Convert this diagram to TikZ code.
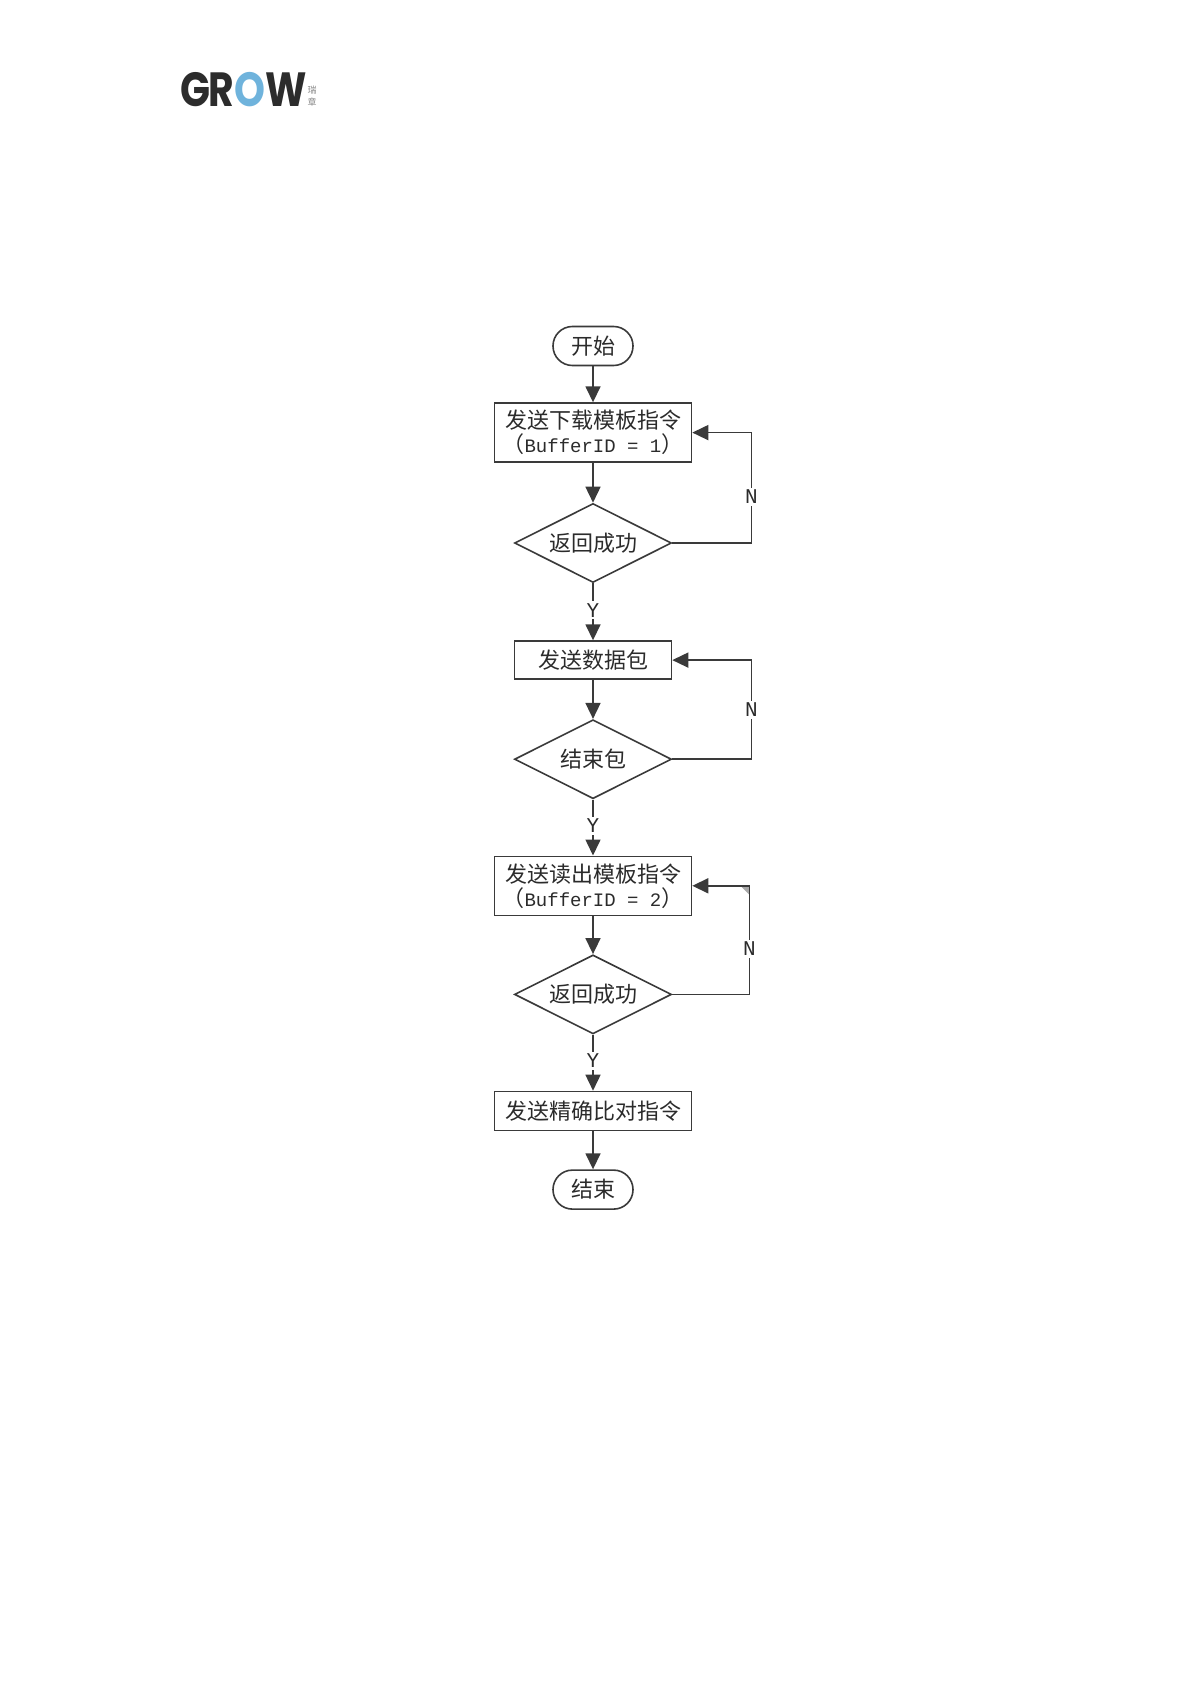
\documentclass[tikz,border=0pt]{standalone}
\usepackage{fontspec}
\usepackage{xcolor}
\usepackage{graphicx}
\usepackage{tikz}
\usetikzlibrary{positioning,arrows.meta,calc,shapes.geometric}
\setmainfont{Noto Sans CJK SC}
\newfontfamily\cjkfont{Noto Sans CJK SC}
\newfontfamily\latinfont{Liberation Mono}
\newfontfamily\logofont[LetterSpace=-4]{Poppins}
\definecolor{chartDraw}{HTML}{3A3A3A}
\definecolor{chartText}{HTML}{2B2B2B}
\definecolor{logoDark}{HTML}{2C2C2C}
\definecolor{logoBlue}{HTML}{6FB3DC}
\definecolor{logoGrey}{HTML}{8A8A8A}
\definecolor{cornerGrey}{HTML}{A8A8A8}

\begin{document}
\begin{tikzpicture}[
  x=0.5pt, y=0.5pt,
  font=\fontsize{11}{12}\selectfont,
  cmdbox/.style={draw=chartDraw, line width=0.8pt, align=center, text=chartText,
              minimum width=98.5pt, minimum height=29.5pt, inner sep=0pt},
  shortbox/.style={cmdbox, minimum width=78.5pt, minimum height=19pt},
  onebox/.style={cmdbox, minimum height=19.5pt},
  endbox/.style={draw=chartDraw, line width=0.8pt, rounded corners=9.7pt, text=chartText,
              minimum width=40pt, minimum height=19.5pt, inner sep=0pt},
  check/.style={diamond, draw=chartDraw, line width=0.8pt, text=chartText, aspect=2,
              minimum width=78.5pt, minimum height=39.5pt, inner sep=0pt},
  flow/.style={-{Triangle[length=8pt,width=7.5pt]}, line width=0.8pt, draw=chartDraw},
  lab/.style={font=\latinfont\fontsize{10.5}{11}\selectfont, text=chartText, fill=white, inner sep=1pt},
]
\useasboundingbox (0,0) rectangle (1191,-1684);

% ---- Logo ----
\node[font=\logofont\bfseries\fontsize{24}{24}\selectfont, text=logoDark, anchor=west, inner sep=0pt] (logo)
  at (180,-90) {\scalebox{0.82}[1]{GR\textcolor{logoBlue}{O}W}};
\node[font=\fontsize{4.5}{6}\selectfont, text=logoGrey, align=center, inner sep=0pt,
  right=0pt of logo, yshift=-3pt] (logosub) {瑞\\章};

% ---- Etapas ----
\node[endbox]                        (start) at (593,-346) {开始};
\node[cmdbox, below=18pt of start]   (load) {发送下载模板指令\\{\cjkfont（}{\latinfont\fontsize{9.5}{12}\selectfont BufferID = 1}{\cjkfont）}};
\node[check, below=19.9pt of load]   (retA) {返回成功};
\node[shortbox, below=28.5pt of retA] (send) {发送数据包};
\node[check, below=19.5pt of send]   (last) {结束包};
\node[cmdbox, below=28pt of last]    (read) {发送读出模板指令\\{\cjkfont（}{\latinfont\fontsize{9.5}{12}\selectfont BufferID = 2}{\cjkfont）}};
\node[check, below=19pt of read]     (retB) {返回成功};
\node[onebox, below=28pt of retB]    (match) {发送精确比对指令};
\node[endbox, below=19pt of match]   (stop) {结束};

% ---- Flujo ----
\draw[flow] (start) -- (load);
\draw[flow] (load) -- (retA);
\draw[flow] (retA) -- node[lab, pos=0.47] {Y} (send);
\draw[flow] (send) -- (last);
\draw[flow] (last) -- node[lab, pos=0.47] {Y} (read);
\draw[flow] (read) -- (retB);
\draw[flow] (retB) -- node[lab, pos=0.47] {Y} (match);
\draw[flow] (match) -- (stop);

% ---- Retornos N ----
\coordinate (backA) at ($(retA.east)+(79,0)$);
\coordinate (backB) at ($(last.east)+(79,0)$);
\coordinate (backC) at ($(retB.east)+(77,0)$);
\coordinate (cornerC) at (backC |- read.east);
\fill[cornerGrey] (cornerC) -- ++(-9,0) -- ++(9,-9) -- cycle;
\draw[flow] (retA.east) -- (backA) |- node[lab, pos=0.21] {N} (load.east);
\draw[flow] (last.east) -- (backB) |- node[lab, pos=0.25] {N} (send.east);
\draw[flow] (retB.east) -- (backC) |- node[lab, pos=0.21] {N} (read.east);

\end{tikzpicture}
\end{document}
